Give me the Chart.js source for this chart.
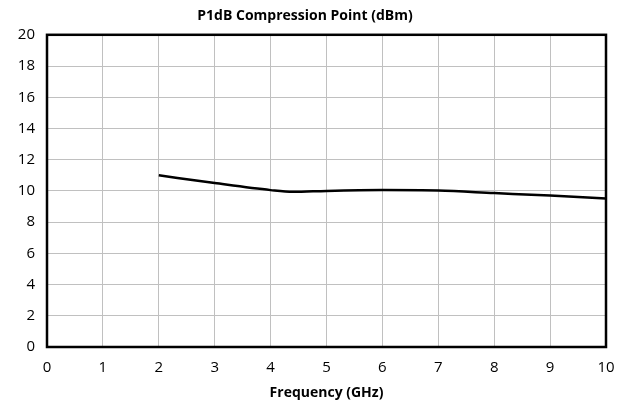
<!DOCTYPE html>
<html>
<head>
<meta charset="utf-8">
<script src="https://cdn.jsdelivr.net/npm/chart.js@4/dist/chart.umd.min.js"></script>
<style>
  html, body { margin: 0; padding: 0; background: #fff; }
  #wrap { width: 628px; height: 404px; }
</style>
</head>
<body>
<div id="wrap"><canvas id="p1dbChart"></canvas></div>
<script>
const freqGHz = [2, 3, 4, 4.4, 5, 6, 7, 8, 9, 10];
const p1dbValues = [11, 10.5, 10.05, 9.94, 10, 10.05, 10.02, 9.86, 9.7, 9.52];
const xTicks = [0, 1, 2, 3, 4, 5, 6, 7, 8, 9, 10];
const yTicks = [0, 2, 4, 6, 8, 10, 12, 14, 16, 18, 20];

const fontFamily = "'Open Sans', 'Liberation Sans', sans-serif";

// plot box: thick black frame around the chart area
const plotFrame = {
  id: "plotFrame",
  afterDatasetsDraw(chart) {
    const { ctx, chartArea } = chart;
    ctx.save();
    ctx.strokeStyle = "#000";
    ctx.lineWidth = 2.5;
    ctx.strokeRect(chartArea.left, chartArea.top, chartArea.right - chartArea.left, chartArea.bottom - chartArea.top);
    ctx.restore();
  }
};

new Chart(document.getElementById("p1dbChart"), {
  type: "scatter",
  data: {
    datasets: [{
      label: "P1dB",
      data: freqGHz.map((f, i) => ({ x: f, y: p1dbValues[i] })),
      showLine: true,
      borderColor: "#000",
      borderWidth: 2.5,
      pointRadius: 0,
      cubicInterpolationMode: "monotone"
    }]
  },
  options: {
    responsive: true,
    maintainAspectRatio: false,
    animation: false,
    layout: { padding: { top: 0, right: 22, left: 4, bottom: 2 } },
    plugins: {
      legend: { display: false },
      tooltip: { enabled: false },
      title: {
        display: true,
        text: "P1dB Compression Point (dBm)",
        color: "#000",
        font: { family: fontFamily, size: 14, weight: "bold" },
        padding: { top: 8, bottom: 10 }
      }
    },
    scales: {
      x: {
        type: "linear",
        min: 0,
        max: 10,
        afterBuildTicks: (axis) => { axis.ticks = xTicks.map(v => ({ value: v })); },
        afterFit: (axis) => { axis.height = 55; axis.paddingRight = 0; axis.paddingLeft = 0; },
        grid: { color: "#c0c0c0", lineWidth: 1, drawTicks: false },
        border: { display: false },
        ticks: { color: "#000", font: { family: fontFamily, size: 15, lineHeight: 0.8 }, padding: 15 },
        title: {
          display: true,
          text: "Frequency (GHz)",
          color: "#000",
          font: { family: fontFamily, size: 14, weight: "bold", lineHeight: 0.8 },
          padding: { top: 0, bottom: 3 }
        }
      },
      y: {
        min: 0,
        max: 20,
        afterBuildTicks: (axis) => { axis.ticks = yTicks.map(v => ({ value: v })); },
        afterFit: (axis) => { axis.width = 43; },
        grid: { color: "#c0c0c0", lineWidth: 1, drawTicks: false },
        border: { display: false },
        ticks: { color: "#000", font: { family: fontFamily, size: 15 }, padding: 12 }
      }
    }
  },
  plugins: [plotFrame]
});
</script>
</body>
</html>
